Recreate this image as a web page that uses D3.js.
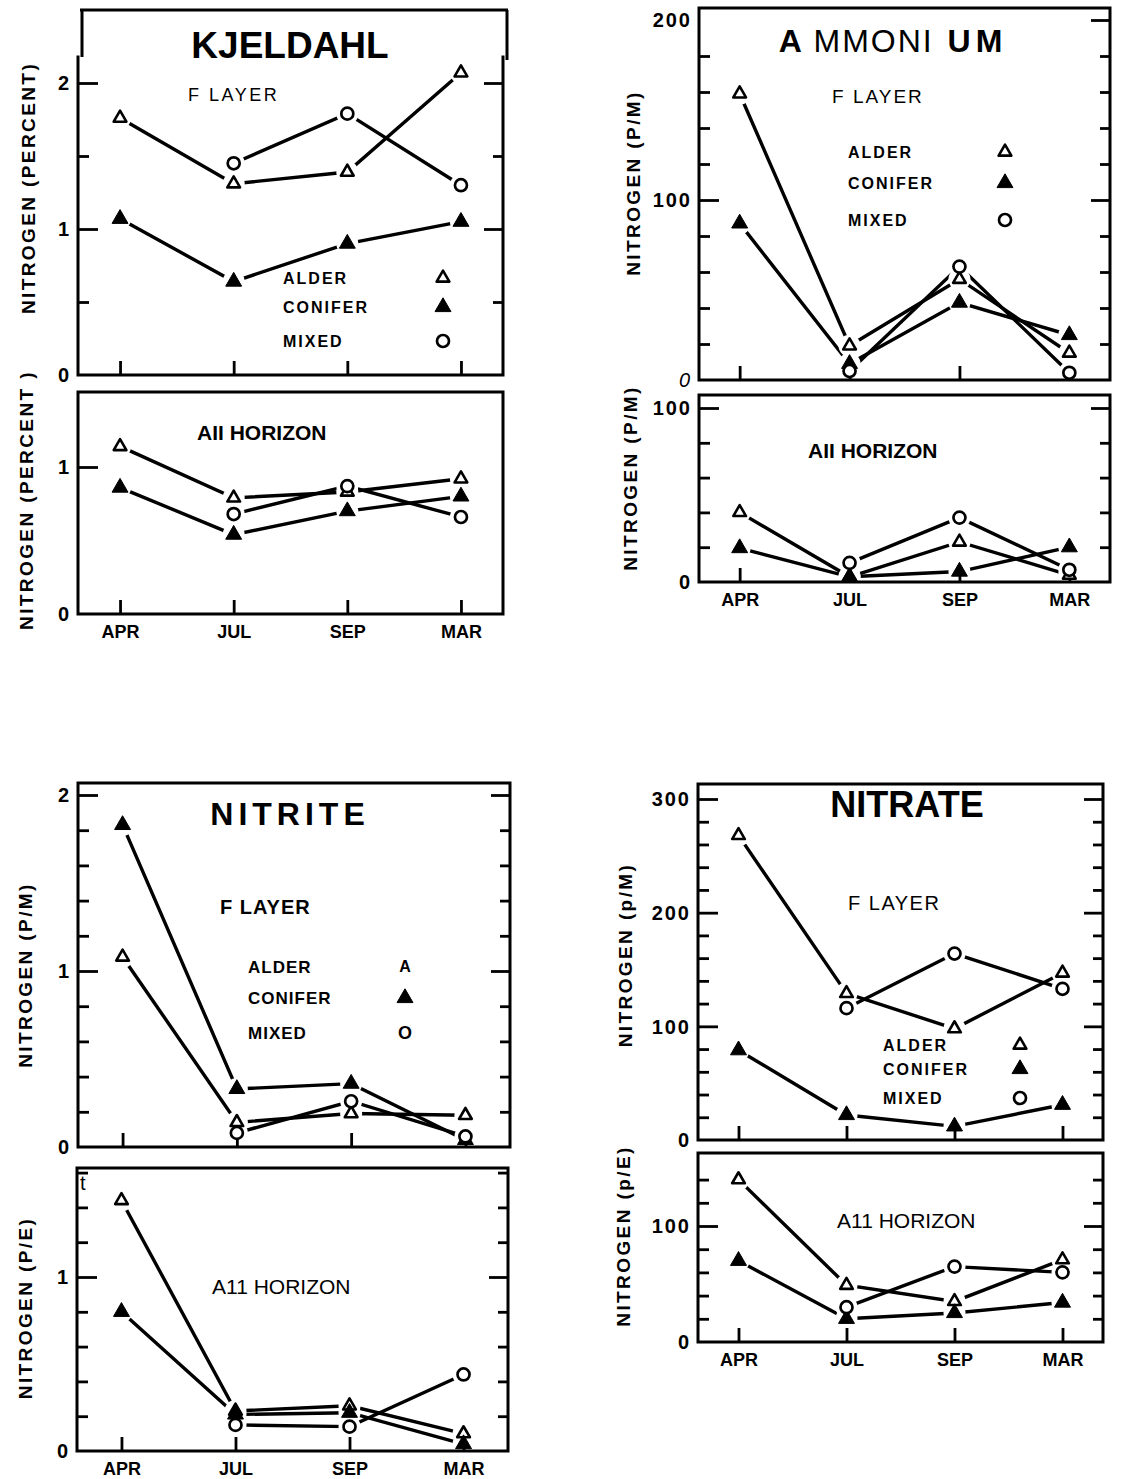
<!DOCTYPE html>
<html>
<head>
<meta charset="utf-8">
<script src="https://cdn.jsdelivr.net/npm/d3@7/dist/d3.min.js"></script>
<style>
  body { margin: 0; background: #fff; }
  svg text { font-family: "Liberation Sans", Arial, Helvetica, sans-serif; fill: #000; }
</style>
</head>
<body>
<svg id="chart" width="1136" height="1479"></svg>
<script>
/**
 * Seasonal nitrogen in F layer and A11 horizon (alder / conifer / mixed stands)
 */

const months = ["APR", "JUL", "SEP", "MAR"];
const seriesNames = ["ALDER", "CONIFER", "MIXED"];

// Kjeldahl N (percent)
const kjeldahlFAlder = [1.76, 1.31, 1.39, 2.07];
const kjeldahlFConifer = [1.07, 0.64, 0.90, 1.05];
const kjeldahlFMixed = [null, 1.45, 1.79, 1.30];
const kjeldahlAAlder = [1.14, 0.79, 0.83, 0.92];
const kjeldahlAConifer = [0.86, 0.54, 0.70, 0.80];
const kjeldahlAMixed = [null, 0.68, 0.87, 0.66];

// Ammonium N (p/M)
const ammoniumFAlder = [159, 19, 56, 15];
const ammoniumFConifer = [87, 9, 43, 25];
const ammoniumFMixed = [null, 5, 63, 4];
const ammoniumAAlder = [40, 3, 23, 4];
const ammoniumAConifer = [19.5, 3, 6, 20];
const ammoniumAMixed = [null, 11, 37, 7];

// Nitrite N (p/M)
const nitriteFAlder = [1.08, 0.14, 0.19, 0.18];
const nitriteFConifer = [1.83, 0.33, 0.36, 0.04];
const nitriteFMixed = [null, 0.08, 0.26, 0.06];
const nitriteAAlder = [1.44, 0.23, 0.26, 0.10];
const nitriteAConifer = [0.80, 0.21, 0.22, 0.04];
const nitriteAMixed = [null, 0.15, 0.14, 0.44];

// Nitrate N
const nitrateFAlder = [268, 129, 98, 147];
const nitrateFConifer = [79, 22, 12, 31];
const nitrateFMixed = [null, 116, 164, 133];
const nitrateAAlder = [140, 49, 35, 71];
const nitrateAConifer = [70, 20, 25, 34];
const nitrateAMixed = [null, 30, 65, 60];

// Tick values
const kjeldahlFTicks = [0, 1, 2];
const kjeldahlFMinor = [0.5, 1.5];
const kjeldahlATicks = [0, 1];
const ammoniumFTicks = [0, 100, 200];
const ammoniumFMinor = [20, 40, 60, 80, 120, 140, 160, 180];
const ammoniumATicks = [0, 100];
const ammoniumAMinor = [20, 40, 60, 80];
const nitriteFTicks = [0, 1, 2];
const nitriteFMinor = [0.2, 0.4, 0.6, 0.8, 1.2, 1.4, 1.6, 1.8];
const nitriteATicks = [0, 1];
const nitriteAMinor = [0.2, 0.4, 0.6, 0.8, 1.2, 1.4, 1.6];
const nitrateFTicks = [0, 100, 200, 300];
const nitrateFMinor = [20, 40, 60, 80, 120, 140, 160, 180, 220, 240, 260, 280];
const nitrateATicks = [0, 100];
const nitrateAMinor = [20, 40, 60, 80, 120, 140];

// Panel layout (pixel boxes), data attached from the arrays above
const panels = [
  { series: [kjeldahlFAlder, kjeldahlFConifer, kjeldahlFMixed], left: 78, right: 503, top: 57, bottom: 375,
    ref: [2, 83], pad: 0.37, ticks: kjeldahlFTicks, minor: kjeldahlFMinor, rightTicks: true, topLine: false,
    xLabels: false, yTitle: "NITROGEN (PERCENT)", yTitleX: 35, yTitleY: 188 },
  { series: [kjeldahlAAlder, kjeldahlAConifer, kjeldahlAMixed], left: 78, right: 503, top: 392, bottom: 614,
    ref: [1, 467], pad: 0.37, ticks: kjeldahlATicks, minor: [], rightTicks: false, topLine: true,
    xLabels: true, yTitle: "NITROGEN (PERCENT )", yTitleX: 33, yTitleY: 500 },
  { series: [ammoniumFAlder, ammoniumFConifer, ammoniumFMixed], left: 699, right: 1110, top: 8, bottom: 380,
    ref: [100, 200], pad: 0.37, ticks: ammoniumFTicks, minor: ammoniumFMinor, rightTicks: true, topLine: true,
    leftSkip: [200], italicZero: true, xLabels: false, yTitle: "NITROGEN (P/M)", yTitleX: 640, yTitleY: 183 },
  { series: [ammoniumAAlder, ammoniumAConifer, ammoniumAMixed], left: 699, right: 1110, top: 395, bottom: 582,
    ref: [100, 408], pad: 0.37, ticks: ammoniumATicks, minor: ammoniumAMinor, rightTicks: true, topLine: true,
    xLabels: true, yTitle: "NITROGEN (P/M)", yTitleX: 637, yTitleY: 478 },
  { series: [nitriteFAlder, nitriteFConifer, nitriteFMixed], left: 78, right: 510, top: 783, bottom: 1147,
    ref: [2, 795], pad: 0.39, ticks: nitriteFTicks, minor: nitriteFMinor, rightTicks: true, topLine: true,
    xLabels: false, yTitle: "NITROGEN (P/M)", yTitleX: 32, yTitleY: 975 },
  { series: [nitriteAAlder, nitriteAConifer, nitriteAMixed], left: 77, right: 508, top: 1168, bottom: 1451,
    ref: [1, 1277], pad: 0.39, ticks: nitriteATicks, minor: nitriteAMinor, rightTicks: true, topLine: true,
    xLabels: true, yTitle: "NITROGEN (P/E)", yTitleX: 32, yTitleY: 1308 },
  { series: [nitrateFAlder, nitrateFConifer, nitrateFMixed], left: 698, right: 1103, top: 784, bottom: 1140,
    ref: [300, 799], pad: 0.375, ticks: nitrateFTicks, minor: nitrateFMinor, rightTicks: true, topLine: true,
    xLabels: false, yTitle: "NITROGEN (p/M)", yTitleX: 632, yTitleY: 955 },
  { series: [nitrateAAlder, nitrateAConifer, nitrateAMixed], left: 698, right: 1103, top: 1153, bottom: 1342,
    ref: [100, 1226], pad: 0.375, ticks: nitrateATicks, minor: nitrateAMinor, rightTicks: true, topLine: true,
    xLabels: true, yTitle: "NITROGEN (p/E)", yTitleX: 630, yTitleY: 1236 }
];

const svg = d3.select("#chart");
const gLines = svg.append("g");
const gHalo = svg.append("g");
const gFrame = svg.append("g");
const gMarks = svg.append("g");
const gText = svg.append("g");

/**
 * Draw one marker: 0 open triangle, 1 filled triangle, 2 open circle
 */
function drawMarker(g, kind, cx, cy) {
  if (kind === 2) {
    g.append("circle").attr("cx", cx).attr("cy", cy).attr("r", 6)
      .attr("fill", "#fff").attr("stroke", "#000").attr("stroke-width", 2.7);
  } else {
    g.append("path")
      .attr("d", d3.symbol(d3.symbolTriangle, kind === 0 ? 70 : 110)())
      .attr("transform", `translate(${cx},${cy})`)
      .attr("fill", kind === 0 ? "#fff" : "#000")
      .attr("stroke", "#000")
      .attr("stroke-width", kind === 0 ? 2.6 : 1)
      .attr("stroke-linejoin", "round");
  }
}

function text(x, y, str, size, opts = {}) {
  return gText.append("text")
    .attr("x", x).attr("y", y)
    .attr("font-size", size)
    .attr("font-weight", opts.weight || "bold")
    .attr("letter-spacing", opts.spacing || 0)
    .attr("text-anchor", opts.anchor || "start")
    .text(str);
}

function styleAxis(g) {
  g.select(".domain").remove();
  g.selectAll(".tick line").attr("stroke", "#000").attr("stroke-width", 2.8);
}

/**
 * Draw a single panel
 */
function drawPanel(p) {
  const x = d3.scalePoint().domain(months).range([p.left, p.right]).padding(p.pad);
  const y = d3.scaleLinear().domain([0, p.ref[0]]).range([p.bottom, p.ref[1]]);

  // series lines
  const line = d3.line()
    .defined(d => d.v != null)
    .x(d => x(d.m))
    .y(d => y(d.v));

  p.series.forEach(values => {
    const pts = values.map((v, i) => ({ m: months[i], v }));
    gLines.append("path")
      .datum(pts)
      .attr("d", line)
      .attr("fill", "none")
      .attr("stroke", "#000")
      .attr("stroke-width", 3.4);
  });

  // white gaps round the markers, then markers
  p.series.forEach((values, k) => {
    values.forEach((v, i) => {
      if (v == null) return;
      gHalo.append("circle").attr("cx", x(months[i])).attr("cy", y(v)).attr("r", 11).attr("fill", "#fff");
      drawMarker(gMarks, k, x(months[i]), y(v));
    });
  });

  // frame
  let d = `M${p.left},${p.top}L${p.left},${p.bottom}L${p.right},${p.bottom}L${p.right},${p.top}`;
  if (p.topLine) d += `L${p.left},${p.top}`;
  gFrame.append("path").attr("d", d).attr("fill", "none")
    .attr("stroke", "#000").attr("stroke-width", 3).attr("stroke-linecap", "square");

  // y ticks, left side (inward)
  const skip = p.leftSkip || [];
  const majors = p.ticks.filter(v => v > 0);
  gFrame.append("g").attr("transform", `translate(${p.left},0)`)
    .call(d3.axisLeft(y).tickValues(majors.filter(v => !skip.includes(v))).tickSize(-20).tickFormat(""))
    .call(styleAxis);
  gFrame.append("g").attr("transform", `translate(${p.left},0)`)
    .call(d3.axisLeft(y).tickValues(p.minor).tickSize(-11).tickFormat(""))
    .call(styleAxis);

  if (p.rightTicks) {
    gFrame.append("g").attr("transform", `translate(${p.right},0)`)
      .call(d3.axisRight(y).tickValues(majors).tickSize(-19).tickFormat(""))
      .call(styleAxis);
    gFrame.append("g").attr("transform", `translate(${p.right},0)`)
      .call(d3.axisRight(y).tickValues(p.minor).tickSize(-10).tickFormat(""))
      .call(styleAxis);
  }

  // y tick labels
  p.ticks.forEach(v => {
    const t = text(p.left - 7, y(v), String(v), 20, { anchor: "end", spacing: 2 })
      .attr("dy", "0.36em");
    if (v === 0 && p.italicZero) t.attr("font-style", "italic").attr("font-weight", "normal");
  });

  // x ticks (upward), month labels on the lower panels
  const xAxis = d3.axisBottom(x).tickSize(-14).tickPadding(11)
    .tickFormat(p.xLabels ? (m => m) : "");
  const gx = gFrame.append("g").attr("transform", `translate(0,${p.bottom})`).call(xAxis).call(styleAxis);
  gx.selectAll("text")
    .attr("font-size", 18)
    .attr("font-weight", "bold")
    .attr("font-family", "'Liberation Sans', Arial, sans-serif")
    .attr("fill", "#000");

  // y title
  gText.append("text")
    .attr("transform", `translate(${p.yTitleX},${p.yTitleY}) rotate(-90)`)
    .attr("text-anchor", "middle")
    .attr("font-size", 19)
    .attr("font-weight", "bold")
    .attr("letter-spacing", 2.4)
    .text(p.yTitle);
}

panels.forEach(drawPanel);

/**
 * Legend rows (names + marker)
 */
function drawLegend(tx, sx, rows, size, spacing) {
  rows.forEach((ry, k) => {
    text(tx, ry + 6, seriesNames[k], size, { spacing });
    drawMarker(gText, k, sx, ry);
  });
}

// Kjeldahl title box
gFrame.append("path")
  .attr("d", "M80,10L508,10M82,10L82,57M507,10L507,60")
  .attr("fill", "none").attr("stroke", "#000").attr("stroke-width", 3);

text(290, 58, "KJELDAHL", 37, { anchor: "middle" });
text(188, 101, "F LAYER", 18, { weight: "normal", spacing: 2.5 });
drawLegend(283, 443, [278, 307, 341], 16, 2);
text(197, 440, "AII HORIZON", 21);

// Ammonium
const amTitle = gText.append("text").attr("x", 893).attr("y", 52)
  .attr("text-anchor", "middle").attr("font-size", 32).attr("letter-spacing", 2);
amTitle.append("tspan").attr("font-weight", "bold").text("A ");
amTitle.append("tspan").attr("font-weight", "normal").text("MMONI");
amTitle.append("tspan").attr("font-weight", "bold").attr("letter-spacing", 5).text(" UM");
text(832, 103, "F LAYER", 19, { weight: "normal", spacing: 2 });
drawLegend(848, 1005, [152, 183, 220], 16, 2);
text(808, 458, "AII HORIZON", 21);

// Nitrite
text(290, 825, "NITRITE", 32, { anchor: "middle", spacing: 5 });
text(220, 914, "F LAYER", 20, { spacing: 1 });
text(248, 973, "ALDER", 17, { spacing: 1 });
text(248, 1004, "CONIFER", 17, { spacing: 1 });
text(248, 1039, "MIXED", 17, { spacing: 1 });
text(405, 972, "A", 16, { anchor: "middle" }).attr("font-family", "'Liberation Serif', serif");
drawMarker(gText, 1, 405, 998);
text(405, 1039, "O", 18, { anchor: "middle" }).attr("font-family", "'Liberation Serif', serif");
text(212, 1294, "A11 HORIZON", 21, { weight: "normal" });
text(80, 1190, "t", 20, { weight: "normal" });

// Nitrate
text(907, 817, "NITRATE", 36, { anchor: "middle" });
text(848, 910, "F LAYER", 20, { weight: "normal", spacing: 1.5 });
drawLegend(883, 1020, [1045, 1069, 1098], 16, 2);
text(837, 1228, "A11 HORIZON", 21, { weight: "normal" });
</script>
</body>
</html>
